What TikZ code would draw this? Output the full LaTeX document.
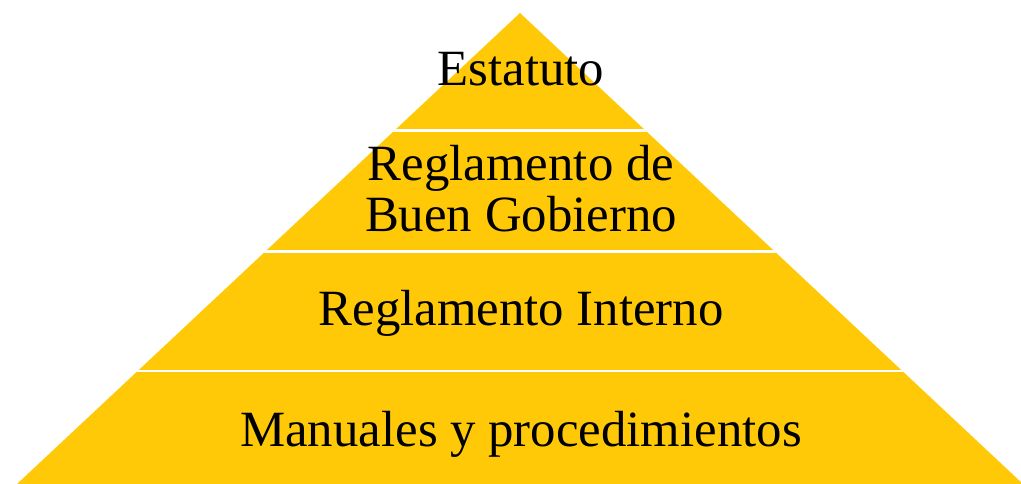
\documentclass[tikz,border=0pt]{standalone}
\usepackage{fontspec}
\setmainfont{Liberation Serif}
\definecolor{pyramidgold}{RGB}{255, 201, 8}
\usetikzlibrary{calc}
\tikzstyle{tier} = [
    font=\fontsize{50.8}{51.5}\selectfont,
    anchor=base,
    inner sep=0pt,
    align=center
]
\tikzstyle{divider} = [
    white,
    line width=2.5pt
]

\begin{document}
\begin{tikzpicture}[x=1pt, y=-1pt]
    \useasboundingbox (0,0) rectangle (1021,484);

    % Pyramid corners
    \coordinate (apex) at (520,13);
    \coordinate (baseleft) at (17,484);
    \coordinate (baseright) at (1023,484);

    % Pyramid body
    \fill[pyramidgold] (apex) -- (baseleft) -- (baseright) -- cycle;

    % Layer dividers
    \begin{scope}
        \clip (apex) -- (baseleft) -- (baseright) -- cycle;
        \draw[divider] (0,130.3) -- (1021,130.3);
        \draw[divider] (0,251.7) -- (1021,251.7);
        \draw[divider] (0,371) -- (1021,371);
    \end{scope}

    % Layer texts
    \node[tier] (estatuto) at (521,86) {Estatuto};
    \node[tier] (buengobierno) at (521,232) {Reglamento de\\Buen Gobierno};
    \node[tier] (interno) at (521,325) {Reglamento Interno};
    \node[tier] (manuales) at (521,446) {Manuales y procedimientos};
\end{tikzpicture}
\end{document}
